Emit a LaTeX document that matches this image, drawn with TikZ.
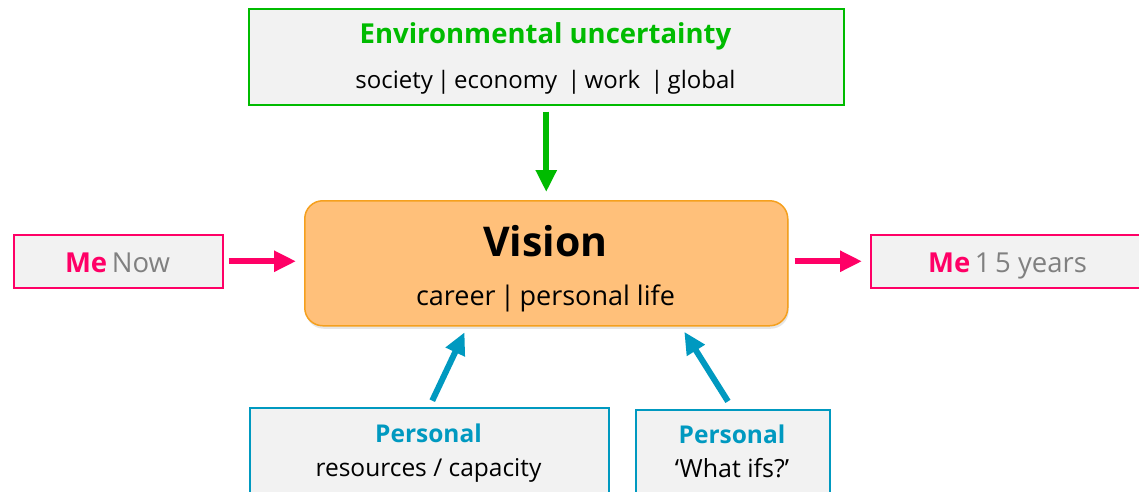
\documentclass[tikz,border=0pt]{standalone}
\usepackage{fontspec}
\setmainfont{Open Sans}
\usetikzlibrary{arrows.meta,shadows}
\definecolor{envgreen}{RGB}{0,187,0}
\definecolor{mepink}{RGB}{255,0,102}
\definecolor{perblue}{RGB}{0,153,192}
\definecolor{visfill}{RGB}{255,192,122}
\definecolor{visedge}{RGB}{245,160,30}
\definecolor{boxgrey}{RGB}{242,242,242}
\definecolor{nowgrey}{RGB}{128,128,128}
\tikzset{framebox/.style={draw=#1, fill=boxgrey, line width=1.5pt, inner sep=0pt, anchor=north west},
%thick arrows between the boxes
fatarrow/.style={draw=#1, line width=6pt, -{Triangle[length=22pt,width=20pt]}},
%text sizes, in pt
txt/.style={anchor=base, font=\fontsize{#1}{#1}\selectfont},
btxt/.style={anchor=base, font=\bfseries\fontsize{#1}{#1}\selectfont}}

\begin{document}
\begin{tikzpicture}[x=1pt,y=-1pt]

\clip (0,0) rectangle (1139,491);

% Environment on top
\node[framebox=envgreen, minimum width=595pt, minimum height=96pt] (env) at (248,8) {};
\node[btxt=27.5, text=envgreen] (envtitle) at (545.5,43) {Environmental uncertainty};
\node[txt=24] (envlist) at (545.5,88) {society\,|\,economy \,|\,work \,|\,global};

% Vision in the middle
\node[anchor=north west, draw=visedge, fill=visfill, line width=1.5pt, rounded corners=18pt,
  minimum width=483pt, minimum height=125pt,
  drop shadow={opacity=0.2, shadow xshift=1pt, shadow yshift=-3pt}] (vision) at (304,200) {};
\node[btxt=41] (vistitle) at (545.5,256) {Vision};
\node[txt=27] (vislist) at (545.5,305) {career\,|\,personal life};

% Me, now and later
\node[framebox=mepink, minimum width=209pt, minimum height=53pt] (menow) at (13,234) {};
\node[txt=27.5] (menowtxt) at (117.5,272) {\textcolor{mepink}{\bfseries Me}\,\textcolor{nowgrey}{Now}};
\node[framebox=mepink, minimum width=290pt, minimum height=53pt] (melater) at (870,234) {};
\node[txt=27.5] (melatertxt) at (1007.5,272) {\textcolor{mepink}{\bfseries Me}\,\textcolor{nowgrey}{1\,5 years}};

% Personal boxes below
\node[framebox=perblue, minimum width=359pt, minimum height=100pt] (res) at (249,407) {};
\node[btxt=24.5, text=perblue] (restitle) at (428.5,442) {Personal};
\node[txt=24.5] (restxt) at (428.5,476) {resources / capacity};
\node[framebox=perblue, minimum width=194pt, minimum height=100pt] (what) at (635,409) {};
\node[btxt=24.5, text=perblue] (whattitle) at (732,443) {Personal};
\node[txt=25] (whattxt) at (732,477) {‘What ifs?’};

% where the blue arrows meet the vision box
\coordinate (vres) at (468,325);
\coordinate (vwhat) at (680,325);

% Arrows
\draw[fatarrow=envgreen, shorten <=6pt, shorten >=8pt] (env.south) -- (vision.north);
\draw[fatarrow=mepink, shorten <=5pt, shorten >=8pt] (menow.east) -- (menow.east -| vision.west);
\draw[fatarrow=mepink, shorten <=6pt, shorten >=8pt] (melater.west -| vision.east) -- (melater.west);
\draw[fatarrow=perblue, shorten <=7pt, shorten >=8pt] (res.north) -- (vres);
\draw[fatarrow=perblue, shorten <=9pt, shorten >=8pt] (what.north) -- (vwhat);

\end{tikzpicture}
\end{document}
